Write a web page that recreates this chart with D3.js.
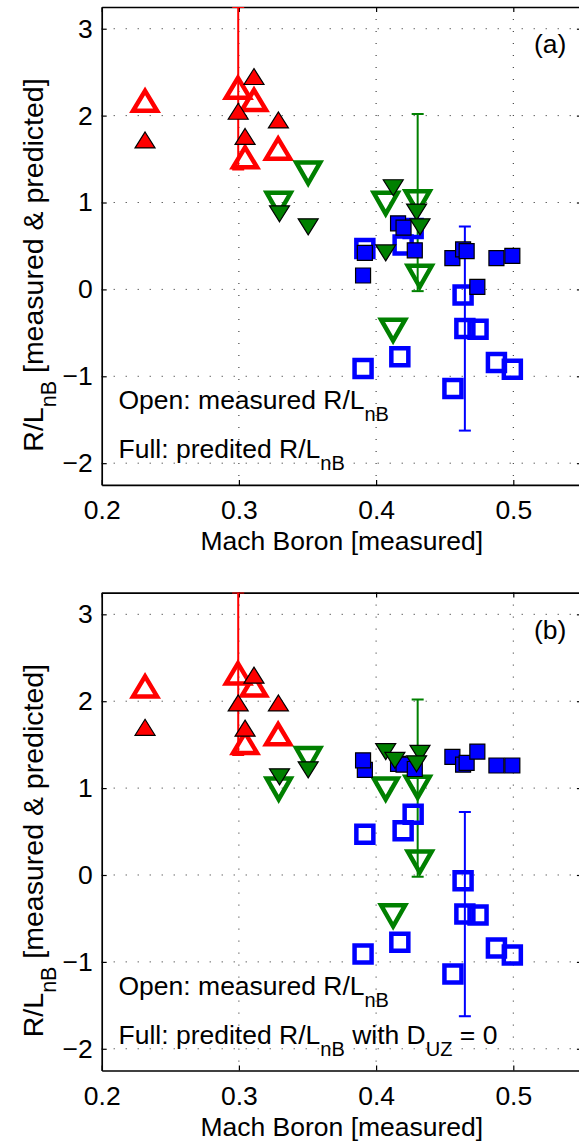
<!DOCTYPE html>
<html><head><meta charset="utf-8">
<script src="https://cdn.jsdelivr.net/npm/d3@7"></script>
<style>
body{margin:0;background:#fff}
svg{display:block}
text{font-family:"Liberation Sans",Arial,Helvetica,sans-serif;fill:#000}
</style>
</head><body>
<svg id="c" width="579" height="1142"></svg>
<script>
// ---------- data ----------
const xTicks=[0.2,0.3,0.4,0.5];
const xTickLabels=["0.2","0.3","0.4","0.5"];
const yTicks=[-2,-1,0,1,2,3];
const yTickLabels=["\u22122","\u22121","0","1","2","3"];

// measured (open markers) - same in both panels
const redMeasX=[0.2316,0.2993,0.3110,0.3045,0.3286];
const redMeasY=[2.17,2.32,2.18,1.52,1.62];
const greenMeasX=[0.3505,0.3290,0.4070,0.4303,0.4318,0.4124];
const greenMeasY=[1.34,0.99,0.99,1.01,0.15,-0.47];
const blueMeasX=[0.3918,0.4197,0.4270,0.4634,0.4647,0.4743,0.4173,0.3905,0.4877,0.4993,0.4560];
const blueMeasY=[0.47,0.51,0.70,-0.065,-0.45,-0.46,-0.775,-0.91,-0.84,-0.92,-1.14];

// error bars
const errColor=["red","green","blue"];
const errX=[0.2995,0.4303,0.4647];
const errY=[2.315,1.00,-0.45];
const errHalf=[0.935,1.02,1.175];

// predicted (full markers) panel (a)
const redPredAX=[0.2316,0.3110,0.2995,0.3045,0.3288];
const redPredAY=[1.72,2.45,2.05,1.76,1.95];
const greenPredAX=[0.3296,0.3505,0.4125,0.4070,0.4295,0.4320];
const greenPredAY=[0.87,0.72,1.17,0.42,0.89,0.72];
const bluePredAX=[0.3918,0.3905,0.4160,0.4200,0.4282,0.4556,0.4634,0.4660,0.4738,0.4877,0.4993];
const bluePredAY=[0.42,0.16,0.76,0.71,0.45,0.36,0.46,0.44,0.03,0.36,0.385];

// predicted (full markers) panel (b), D_UZ = 0
const redPredBX=[0.2316,0.3110,0.2995,0.3045,0.3288];
const redPredBY=[1.70,2.30,1.98,1.69,1.98];
const greenPredBX=[0.3296,0.3505,0.4070,0.4137,0.4320,0.4295];
const greenPredBY=[1.13,1.21,1.42,1.32,1.40,1.28];
const bluePredBX=[0.3918,0.3905,0.4160,0.4200,0.4282,0.4556,0.4634,0.4660,0.4738,0.4877,0.4993];
const bluePredBY=[1.21,1.32,1.28,1.27,1.22,1.36,1.27,1.29,1.42,1.26,1.26];

const colors={red:"#ff0000",green:"#008000",blue:"#0000ff"};

// ---------- drawing ----------
const svg=d3.select("#c");
const FS=26.5, SUB=20, SUBDY=12;
const x=d3.scaleLinear().domain([0.2,0.55]).range([101.7,581.9]);

function triUp(w,h){return `M0,${-h/2}L${w/2},${h/2}L${-w/2},${h/2}Z`;}
function triDown(w,h){return `M0,${h/2}L${w/2},${-h/2}L${-w/2},${-h/2}Z`;}
function square(s){return `M${-s/2},${-s/2}H${s/2}V${s/2}H${-s/2}Z`;}

function zip(a,b){return a.map((v,i)=>[v,b[i]]);}

function richText(g,parts,attrs,fs=FS,sub=SUB,subdy=SUBDY){
  const t=g.append("text");
  for(const k in attrs) t.attr(k,attrs[k]);
  t.attr("font-size",fs);
  let cur=0;
  parts.forEach(p=>{
    const s=t.append("tspan").text(p.t);
    const target=p.sub?subdy:0;
    if(target!==cur){s.attr("dy",target-cur);cur=target;}
    if(p.sub) s.attr("font-size",sub);
  });
  return t;
}

function panel(top,pred,legend2,tag,id){
  const h=477.9;
  const y=d3.scaleLinear().domain([-2.25,3.25]).range([top+h,top]);
  const g=svg.append("g");
  const [x0,x1]=x.range();
  const clip="clip"+id;
  svg.append("clipPath").attr("id",clip).append("rect")
    .attr("x",x0-20).attr("y",top).attr("width",x1-x0+40).attr("height",h+20);

  // grid
  g.append("g").selectAll("line").data(yTicks).join("line")
    .attr("x1",x0).attr("x2",x1).attr("y1",d=>y(d)).attr("y2",d=>y(d))
    .attr("stroke","#222").attr("stroke-width",1).attr("stroke-dasharray","1,11");
  g.append("g").selectAll("line").data(xTicks.slice(1)).join("line")
    .attr("x1",d=>x(d)).attr("x2",d=>x(d)).attr("y1",top).attr("y2",top+h)
    .attr("stroke","#222").attr("stroke-width",1).attr("stroke-dasharray","1,11");

  // axes
  const ax=g.append("g");
  ax.append("g").attr("transform",`translate(${x0},0)`)
    .call(d3.axisLeft(y).tickValues(yTicks).tickFormat((d,i)=>yTickLabels[i]).tickSizeInner(-5).tickSizeOuter(0).tickPadding(9));
  ax.append("g").attr("transform",`translate(0,${top+h})`)
    .call(d3.axisBottom(x).tickValues(xTicks).tickFormat((d,i)=>xTickLabels[i]).tickSizeInner(-5).tickSizeOuter(0).tickPadding(15.7));
  ax.append("g").attr("transform",`translate(0,${top})`)
    .call(d3.axisTop(x).tickValues(xTicks).tickFormat("").tickSizeInner(-5).tickSizeOuter(0));
  ax.append("g").attr("transform",`translate(${x1},0)`)
    .call(d3.axisRight(y).tickValues(yTicks).tickFormat("").tickSizeInner(-5).tickSizeOuter(0));
  ax.selectAll(".domain").attr("stroke","#000").attr("stroke-width",1.7);
  ax.selectAll(".tick line").attr("stroke","#000").attr("stroke-width",1.2);
  ax.selectAll("text").attr("font-size",FS).attr("fill","#000");
  ax.selectAll("g").attr("font-family",null).attr("font-size",null);

  // error bars
  const eb=g.append("g").attr("clip-path",`url(#${clip})`);
  errX.forEach((ex,i)=>{
    const c=colors[errColor[i]];
    const lo=errY[i]-errHalf[i], hi=errY[i]+errHalf[i];
    eb.append("line").attr("x1",x(ex)).attr("x2",x(ex)).attr("y1",y(lo)).attr("y2",y(hi)).attr("stroke",c).attr("stroke-width",2);
    [lo,hi].forEach(v=>eb.append("line").attr("x1",x(ex)-6).attr("x2",x(ex)+6).attr("y1",y(v)).attr("y2",y(v)).attr("stroke",c).attr("stroke-width",2));
  });

  function openMarks(xs,ys,path,c){
    g.append("g").selectAll("path").data(zip(xs,ys)).join("path")
      .attr("d",path).attr("transform",d=>`translate(${x(d[0])},${y(d[1])})`)
      .attr("fill","none").attr("stroke",c).attr("stroke-width",4.5).attr("stroke-linejoin","miter");
  }
  function fullMarks(xs,ys,path,c){
    g.append("g").selectAll("path").data(zip(xs,ys)).join("path")
      .attr("d",path).attr("transform",d=>`translate(${x(d[0])},${y(d[1])})`)
      .attr("fill",c).attr("stroke","#000").attr("stroke-width",1.2).attr("stroke-linejoin","miter");
  }
  openMarks(redMeasX,redMeasY,triUp(24,20),colors.red);
  openMarks(greenMeasX,greenMeasY,triDown(24,21),colors.green);
  openMarks(blueMeasX,blueMeasY,square(17),colors.blue);
  fullMarks(pred.blueX,pred.blueY,square(15),colors.blue);
  fullMarks(pred.greenX,pred.greenY,triDown(20,16),colors.green);
  fullMarks(pred.redX,pred.redY,triUp(20,16),colors.red);

  // legend texts
  richText(g,[{t:"Open: measured R/L"},{t:"nB",sub:true}],{x:118.5,y:top+402});
  richText(g,legend2,{x:118.5,y:top+451});
  // panel tag
  g.append("text").attr("x",534).attr("y",top+46).attr("font-size",FS).text(tag);
  // axis titles
  g.append("text").attr("x",(x0+581.9)/2).attr("y",top+543).attr("text-anchor","middle").attr("font-size",FS).text("Mach Boron [measured]");
  richText(g,[{t:"R/L"},{t:"nB",sub:true},{t:" [measured & predicted]"}],
    {transform:`translate(43,${top+258}) rotate(-90)`,"text-anchor":"middle"},28.5,21.5,13);
}

panel(7,{redX:redPredAX,redY:redPredAY,greenX:greenPredAX,greenY:greenPredAY,blueX:bluePredAX,blueY:bluePredAY},
  [{t:"Full: predited R/L"},{t:"nB",sub:true}],"(a)","A");
panel(592.6,{redX:redPredBX,redY:redPredBY,greenX:greenPredBX,greenY:greenPredBY,blueX:bluePredBX,blueY:bluePredBY},
  [{t:"Full: predited R/L"},{t:"nB",sub:true},{t:" with D"},{t:"UZ",sub:true},{t:" = 0"}],"(b)","B");
</script>
</body></html>
